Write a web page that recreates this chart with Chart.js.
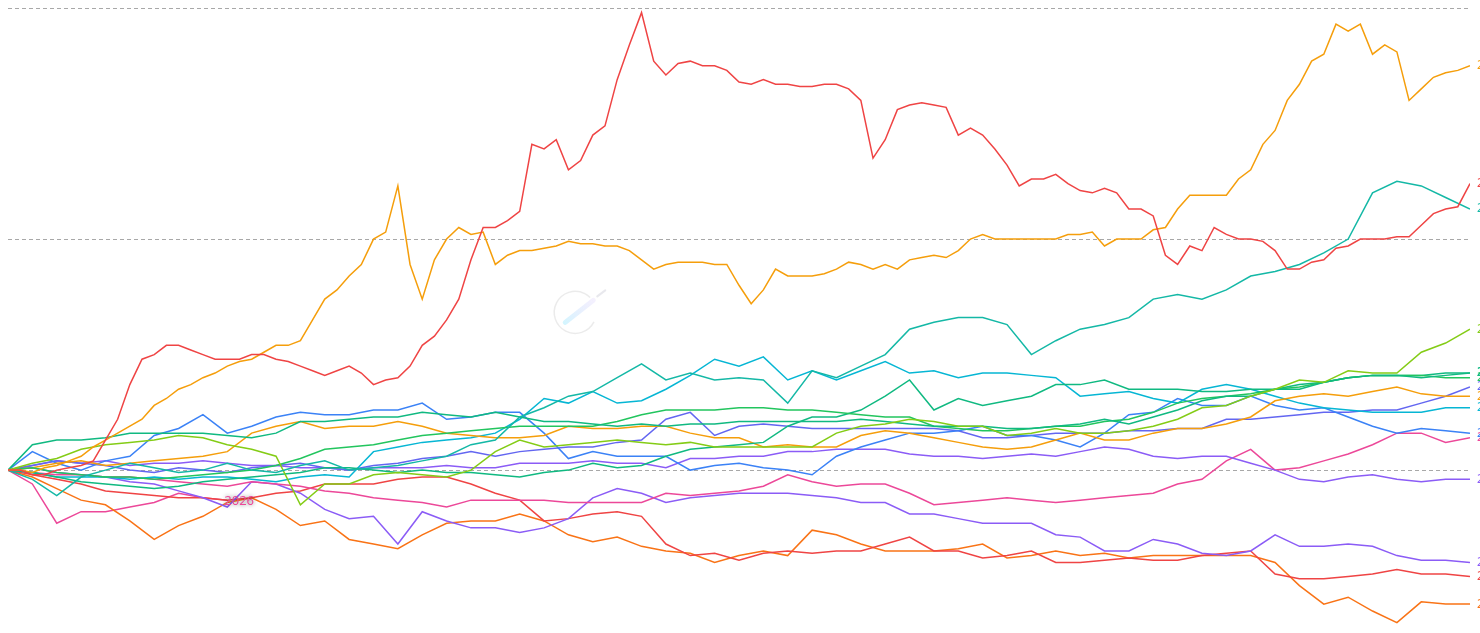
<!DOCTYPE html>
<html>
<head>
<meta charset="utf-8">
<script src="https://cdn.jsdelivr.net/npm/chart.js@4/dist/chart.umd.min.js"></script>
<style>
html,body{margin:0;padding:0;background:#fff;}
canvas{display:block;}
</style>
</head>
<body>
<canvas id="c" width="1480" height="633"></canvas>
<script>
// time axis: weeks 0..60; most series sampled every week, the two widest-swinging ones every half week
const weekCount = 60;

// cumulative return (%) per year
const y2010 = [0,0,-2,-2,0,1,2,4,13,22,37,48,50,54,54,52,50,48,48,48,50,50,48,47,45,43,41,43,45,42,37,39,40,45,54,58,65,74,91,105,105,108,112,141,139,143,130,134,145,149,169,184,198,177,171,176,177,175,175,173,168,167,169,167,167,166,166,167,167,165,160,135,143,156,158,159,158,157,145,148,145,139,132,123,126,126,128,124,121,120,122,120,113,113,110,93,89,97,95,105,102,100,100,99,95,87,87,90,91,96,97,100,100,100,101,101,106,111,113,114,124];
const y2011 = [0,0,-1,1,2,4,6,10,13,16,19,22,28,31,35,37,40,42,45,47,48,51,54,54,56,65,74,78,84,89,100,103,123,89,74,91,100,105,102,103,89,93,95,95,96,97,99,98,98,97,97,95,91,87,89,90,90,90,89,89,80,72,78,87,84,84,84,85,87,90,89,87,89,87,91,92,93,92,95,100,102,100,100,100,100,100,100,102,102,103,97,100,100,100,104,105,113,119,119,119,119,126,130,141,147,160,167,177,180,193,190,193,180,184,181,160,165,170,172,173,175];
const y2012 = [0,-4,-11,-3,0,3,1,-1,0,3,0,-1,2,4,0,1,2,4,6,11,13,23,27,32,34,40,46,39,42,39,40,39,29,43,40,45,50,61,64,66,66,63,50,56,61,63,66,74,76,74,78,84,86,89,94,100,120,125,123,118,113];
const y2013 = [0,3,5,9,11,12,13,15,14,11,9,6,-15,-6,-6,-2,-1,-2,-3,0,8,13,10,11,12,13,12,11,12,10,10,10,10,10,16,19,20,22,21,19,19,15,16,18,16,16,17,19,22,27,28,32,35,39,38,43,42,42,51,55,61];
const y2014 = [0,11,13,13,14,16,16,16,16,15,14,16,21,21,22,23,23,25,24,23,25,23,21,21,20,19,20,19,20,20,21,21,21,21,21,22,21,20,19,19,19,18,18,19,20,22,20,23,26,30,32,32,35,35,38,40,41,41,40,41,42];
const y2015 = [0,1,-1,-2,-3,-3,-4,-3,-2,-1,0,2,5,9,10,11,13,15,16,17,18,19,19,19,19,21,24,26,26,26,27,27,26,26,25,24,23,23,19,18,17,17,18,19,19,21,22,25,29,31,32,33,35,36,38,40,41,41,41,40,40];
const y2016 = [0,-1,-3,-5,-6,-7,-8,-7,-5,-4,-3,-2,-1,1,1,0,-1,0,-1,-1,-2,-3,-1,0,3,1,2,6,9,10,11,12,19,23,23,26,32,39,26,31,28,30,32,37,37,39,35,35,35,34,34,35,35,37,38,40,41,41,41,42,42];
const y2017 = [0,1,3,4,2,3,4,5,6,8,16,19,21,18,19,19,21,19,16,15,14,14,15,19,18,18,19,19,16,14,14,10,11,10,10,15,17,16,14,12,10,9,10,13,16,13,13,16,18,18,20,23,30,32,33,32,34,36,33,32,32];
const y2018 = [0,-1,-3,-3,-3,-4,-3,-4,-3,-3,-4,-5,-3,-2,-3,8,10,12,13,14,16,22,31,29,34,29,30,35,41,48,45,49,39,43,39,43,47,42,43,40,42,42,41,40,32,33,34,31,29,35,37,35,32,29,27,26,25,25,25,27,27];
const y2019 = [0,8,3,0,4,6,15,18,24,16,19,23,25,24,24,26,26,29,22,23,25,25,16,5,8,6,6,6,0,2,3,1,0,-2,6,10,13,16,16,17,19,15,15,13,10,16,24,25,31,28,28,32,28,26,27,23,19,16,18,17,16];
const y2020 = [0,2,4,3,2,0,-1,1,0,-1,1,2,3,1,0,2,3,5,6,8,6,8,9,10,10,12,13,22,25,15,19,20,19,18,18,18,18,18,18,17,14,14,15,16,16,16,17,17,18,18,22,22,23,24,25,25,26,26,29,32,36];
const y2021 = [0,2,4,3,4,2,3,3,4,3,2,2,1,1,0,1,1,1,2,1,1,3,3,3,4,3,3,1,5,5,6,6,8,8,9,9,9,7,6,6,5,6,7,6,8,10,9,6,5,6,6,3,0,-4,-5,-3,-2,-4,-5,-4,-4];
const y2022 = [0,-1,-2,-2,-3,-3,-4,-5,-6,-7,-5,-6,-7,-9,-10,-12,-13,-14,-16,-13,-13,-13,-13,-14,-14,-14,-14,-10,-11,-10,-9,-7,-2,-5,-7,-6,-6,-10,-15,-14,-13,-12,-13,-14,-13,-12,-11,-10,-6,-4,4,9,0,1,4,7,11,16,16,12,14];
const y2023 = [0,1,-1,-2,-3,-5,-6,-9,-12,-16,-5,-6,-10,-17,-21,-20,-32,-18,-22,-25,-25,-27,-25,-21,-12,-8,-10,-14,-12,-11,-10,-10,-10,-11,-12,-14,-14,-19,-19,-21,-23,-23,-23,-28,-29,-35,-35,-30,-32,-36,-37,-35,-28,-33,-33,-32,-33,-37,-39,-39,-40];
const y2024 = [0,-2,-4,-6,-9,-10,-11,-12,-12,-13,-12,-10,-9,-6,-6,-6,-4,-3,-3,-6,-10,-13,-22,-21,-19,-18,-20,-32,-37,-36,-39,-36,-35,-36,-35,-35,-32,-29,-35,-35,-38,-37,-35,-40,-40,-39,-38,-39,-39,-37,-36,-35,-45,-47,-47,-46,-45,-43,-45,-45,-46];
const y2025 = [0,-3,-8,-13,-15,-22,-30,-24,-20,-14,-12,-17,-24,-22,-30,-32,-34,-28,-23,-22,-22,-19,-22,-28,-31,-29,-33,-35,-36,-40,-37,-35,-37,-26,-28,-32,-35,-35,-35,-34,-32,-38,-37,-35,-37,-36,-38,-37,-37,-37,-37,-37,-40,-50,-58,-55,-61,-66,-57,-58,-58];
const y2026 = [0,-6,-23,-18,-18,-16,-14,-10,-12,-13];

const seriesNames  = ['2010','2011','2012','2013','2014','2015','2016','2017','2018','2019','2020','2021','2022','2023','2024','2025','2026'];
const seriesValues = [y2010,y2011,y2012,y2013,y2014,y2015,y2016,y2017,y2018,y2019,y2020,y2021,y2022,y2023,y2024,y2025,y2026];
const seriesColors = ['#ef4444','#f59e0b','#14b8a6','#84cc16','#10b981','#22c55e','#10b981','#f59e0b','#06b6d4','#3b82f6','#6366f1','#8b5cf6','#ec4899','#8b5cf6','#ef4444','#f97316','#ec4899'];
const gridValues = [0, 100, 200];

function toPoints(vals) {
  const step = vals.length > weekCount + 1 ? weekCount / (vals.length - 1) : 1;
  return vals.map((v, j) => ({ x: j * step, y: v }));
}

const endLabels = {
  id: 'endLabels',
  afterDatasetsDraw(chart) {
    const ctx = chart.ctx;
    ctx.save();
    chart.data.datasets.forEach((ds, i) => {
      const meta = chart.getDatasetMeta(i);
      const last = meta.data[ds.data.length - 1];
      if (!last) return;
      const current = i === chart.data.datasets.length - 1;
      ctx.font = current ? '13px "Noto Sans", sans-serif' : '12px "Noto Sans", sans-serif';
      ctx.textBaseline = 'middle';
      ctx.textAlign = 'left';
      ctx.fillStyle = ds.borderColor;
      if (current) {
        ctx.shadowColor = 'rgba(0,0,0,0.55)';
        ctx.shadowBlur = 4;
        ctx.fillText(ds.label, last.x - 3, last.y + 1);
      } else {
        ctx.fillText(ds.label, last.x + 7, last.y);
      }
    });
    ctx.restore();
  }
};

const watermark = {
  id: 'watermark',
  beforeDatasetsDraw(chart) {
    const a = chart.chartArea;
    const ctx = chart.ctx;
    const cx = a.left + (a.right - a.left) * 0.388;
    const cy = a.top + (a.bottom - a.top) * 0.487;
    ctx.save();
    ctx.strokeStyle = 'rgba(210,210,210,0.45)';
    ctx.lineWidth = 1.5;
    ctx.beginPath();
    ctx.arc(cx, cy, 21, Math.PI * 0.15, Math.PI * 1.75);
    ctx.stroke();
    const g = ctx.createLinearGradient(cx - 12, cy + 12, cx + 22, cy - 15);
    g.addColorStop(0, 'rgba(180,240,255,0.6)');
    g.addColorStop(1, 'rgba(220,200,250,0.25)');
    ctx.strokeStyle = g;
    ctx.lineWidth = 5;
    ctx.lineCap = 'round';
    ctx.beginPath();
    ctx.moveTo(cx - 10, cy + 10);
    ctx.lineTo(cx + 18, cy - 12);
    ctx.stroke();
    ctx.lineWidth = 2;
    ctx.strokeStyle = 'rgba(210,210,220,0.5)';
    ctx.beginPath();
    ctx.moveTo(cx + 22, cy - 16);
    ctx.lineTo(cx + 30, cy - 22);
    ctx.stroke();
    ctx.restore();
  }
};

new Chart(document.getElementById('c'), {
  type: 'line',
  data: {
    datasets: seriesValues.map((vals, i) => ({
      label: seriesNames[i],
      data: toPoints(vals),
      borderColor: seriesColors[i],
      backgroundColor: seriesColors[i],
      borderWidth: 1.5,
      pointRadius: 0,
      tension: 0,
      fill: false
    }))
  },
  options: {
    responsive: false,
    animation: false,
    parsing: true,
    layout: { padding: { left: 8, right: 10, top: 8, bottom: 0 } },
    plugins: { legend: { display: false }, tooltip: { enabled: false } },
    scales: {
      x: { type: 'linear', display: false, min: 0, max: weekCount },
      y: {
        min: -70.5,
        max: 200,
        afterBuildTicks: (axis) => { axis.ticks = gridValues.map(v => ({ value: v })); },
        ticks: { display: false },
        grid: { color: '#a8a8a8', lineWidth: 1, drawTicks: false },
        border: { display: false, dash: [4, 3] }
      }
    }
  },
  plugins: [watermark, endLabels]
});
</script>
</body>
</html>
